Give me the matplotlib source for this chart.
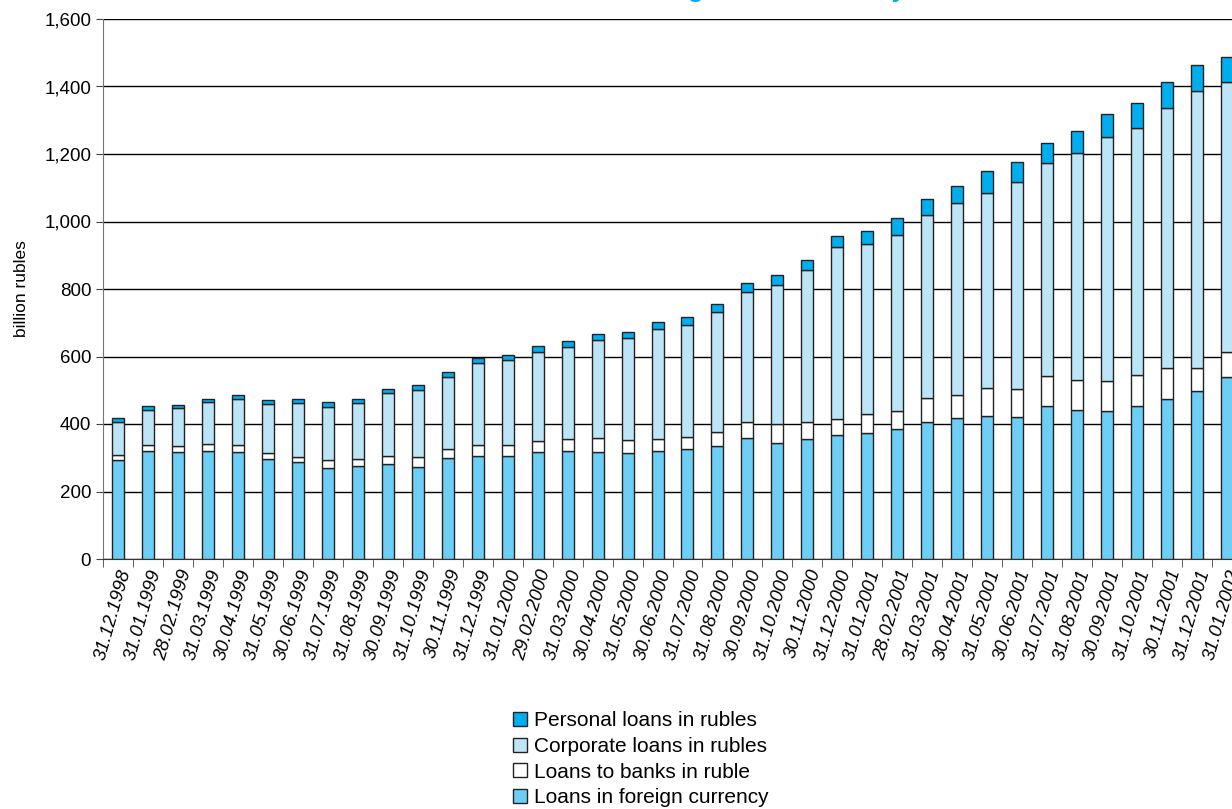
import matplotlib.pyplot as plt
import numpy as np
from matplotlib.ticker import FuncFormatter

plt.rcParams['font.family'] = ['Liberation Sans', 'DejaVu Sans']

# Month-end dates
dates = ['31.12.1998', '31.01.1999', '28.02.1999', '31.03.1999', '30.04.1999',
         '31.05.1999', '30.06.1999', '31.07.1999', '31.08.1999', '30.09.1999',
         '31.10.1999', '30.11.1999', '31.12.1999', '31.01.2000', '29.02.2000',
         '31.03.2000', '30.04.2000', '31.05.2000', '30.06.2000', '31.07.2000',
         '31.08.2000', '30.09.2000', '31.10.2000', '30.11.2000', '31.12.2000',
         '31.01.2001', '28.02.2001', '31.03.2001', '30.04.2001', '31.05.2001',
         '30.06.2001', '31.07.2001', '31.08.2001', '30.09.2001', '31.10.2001',
         '30.11.2001', '31.12.2001', '31.01.2002']

# billion rubles
foreign_currency = [293, 321, 316, 321, 316, 297, 286, 270, 275, 281,
                    273, 300, 304, 304, 317, 320, 317, 314, 319, 327,
                    335, 359, 345, 355, 368, 374, 384, 407, 419, 423,
                    422, 454, 441, 440, 454, 475, 497, 538]
banks_rub = [14, 18, 18, 21, 23, 18, 17, 24, 22, 24,
             28, 26, 34, 34, 33, 35, 42, 40, 36, 34,
             42, 48, 54, 50, 47, 55, 55, 70, 68, 85,
             82, 89, 90, 86, 92, 90, 68, 76]
corporate_rub = [99, 103, 113, 123, 134, 145, 160, 157, 166, 186,
                 201, 214, 243, 252, 264, 274, 289, 300, 326, 331,
                 354, 384, 413, 451, 508, 503, 522, 543, 568, 577,
                 614, 630, 672, 724, 731, 771, 823, 799]
personal_rub = [13, 10, 10, 10, 12, 11, 12, 13, 10, 14,
                14, 13, 15, 14, 18, 16, 18, 19, 21, 24,
                25, 28, 30, 31, 34, 40, 48, 47, 49, 65,
                59, 59, 64, 69, 74, 78, 76, 75]

fig = plt.figure(figsize=(12.32, 8.09), dpi=100)
# axes runs slightly past the right edge, like the original crop
ax = fig.add_axes([103 / 1232, 250 / 809, 1139 / 1232, 540 / 809])

x = np.arange(len(dates))
w = 0.4
fx = np.array(foreign_currency)
bk = np.array(banks_rub)
cp = np.array(corporate_rub)
ps = np.array(personal_rub)

kw = dict(width=w, edgecolor='#222222', linewidth=1.0, zorder=3)
b1 = ax.bar(x, fx, color='#6DCFF6', label='Loans in foreign currency', **kw)
b2 = ax.bar(x, bk, bottom=fx, color='white', label='Loans to banks in ruble', **kw)
b3 = ax.bar(x, cp, bottom=fx + bk, color='#BDE5F8', label='Corporate loans in rubles', **kw)
b4 = ax.bar(x, ps, bottom=fx + bk + cp, color='#00AEEF', label='Personal loans in rubles', **kw)

ax.set_xlim(-0.5, len(dates) - 0.5)
ax.set_ylim(0, 1600)
ax.set_yticks(np.arange(0, 1601, 200))
ax.yaxis.set_major_formatter(FuncFormatter(lambda v, p: f'{int(v):,}'))
ax.yaxis.grid(True, color='black', linewidth=1.0)
ax.set_axisbelow(True)

ax.set_xticks(x)
ax.set_xticklabels(dates, rotation=74, ha='right', rotation_mode='anchor',
                   fontsize=13.5, style='italic')
ax.set_xticks(np.arange(-0.5, len(dates), 1), minor=True)
ax.tick_params(axis='x', which='major', length=0, pad=6)
ax.tick_params(axis='x', which='minor', length=6, color='#444444')
ax.tick_params(axis='y', labelsize=13.5, length=5, color='#444444')

for s in ['top', 'right']:
    ax.spines[s].set_visible(False)
ax.spines['left'].set_color('#777777')
ax.spines['bottom'].set_color('#333333')

ax.set_ylabel('billion rubles', fontsize=12.5)
ax.yaxis.set_label_coords(-0.065, 0.5)

handles = [b4, b3, b2, b1]
fig.legend(handles=handles, labels=[h.get_label() for h in handles],
           loc='upper left', bbox_to_anchor=(505 / 1232, 1 - 703 / 809),
           frameon=False, fontsize=15, handlelength=0.65, handleheight=0.65,
           handletextpad=0.35, labelspacing=0.32, borderaxespad=0)

# title sits mostly above the cropped top edge
fig.text(538 / 1232, 1 + 3 / 809, 'Bank lending to the economy', fontsize=19,
         fontweight='bold', color='#00AEEF', ha='left', va='baseline')

fig.savefig('out.png', dpi=100)
